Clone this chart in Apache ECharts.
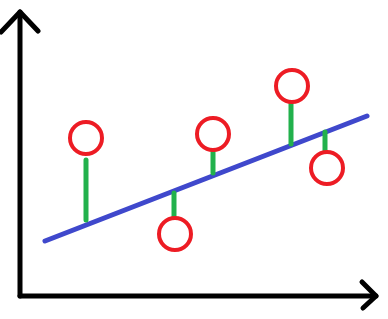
<!DOCTYPE html>
<html>
<head>
<meta charset="utf-8">
<script src="https://cdn.jsdelivr.net/npm/echarts@6/dist/echarts.min.js"></script>
<style>html,body{margin:0;padding:0;background:#fff}#c{width:388px;height:319px}</style>
</head>
<body>
<div id="c"></div>
<script>
// Observations (drawn as open circles)
var pointX = [66, 155, 193, 272, 307];
var pointY = [158, 62, 162, 210, 128];
// Fitted regression line endpoints
var fitX = [25, 347];
var fitY = [55, 180];
// Residual segments (x, top, bottom)
var resX = [66, 154, 193, 271, 305];
var resTop = [136, 103, 144, 192, 164];
var resBottom = [76, 80, 123, 152, 146];
// Axis shafts
var yShaftX = [0, 0];
var yShaftY = [0, 284];
var xShaftX = [0, 356];
var xShaftY = [0, 0];
// Arrowheads of the axes
var yArrowX = [-19, 0, 18];
var yArrowY = [264, 284, 265];
var xArrowX = [342, 356, 343];
var xArrowY = [14, 0, -12];

var chart = echarts.init(document.getElementById('c'));
var series = [];
function pairs(xs, ys){ return xs.map(function(x,i){ return [x, ys[i]]; }); }
function blackLine(xs, ys){
  return {type: 'line', data: pairs(xs, ys), symbol: 'none', clip: false, z: 5, silent: true,
    lineStyle: {color: '#000', width: 5, cap: 'round', join: 'round'}};
}
series.push({
  type: 'line', data: pairs(fitX, fitY), symbol: 'none', clip: false, z: 2,
  lineStyle: {color: '#3F48CC', width: 5, cap: 'round'}, silent: true
});
resX.forEach(function(x, i){
  series.push({
    type: 'line', data: [[x, resTop[i]], [x, resBottom[i]]], symbol: 'none', clip: false, z: 3,
    lineStyle: {color: '#22B14C', width: 5, cap: 'round'}, silent: true
  });
});
series.push({
  type: 'scatter', data: pairs(pointX, pointY), symbol: 'circle', symbolSize: 32, z: 4,
  itemStyle: {color: 'rgba(255,255,255,0)', borderColor: '#ED1C24', borderWidth: 4, opacity: 1}, silent: true
});
series.push(blackLine(yShaftX, yShaftY));
series.push(blackLine(xShaftX, xShaftY));
series.push(blackLine(yArrowX, yArrowY));
series.push(blackLine(xArrowX, xArrowY));

chart.setOption({
  animation: false,
  backgroundColor: '#fff',
  grid: {left: 0, top: 6, width: 380, height: 310, containLabel: false},
  xAxis: {type: 'value', min: -20, max: 360, show: false,
    axisLine: {show: false}, axisTick: {show: false}, axisLabel: {show: false}, splitLine: {show: false}},
  yAxis: {type: 'value', min: -20, max: 290, show: false,
    axisLine: {show: false}, axisTick: {show: false}, axisLabel: {show: false}, splitLine: {show: false}},
  series: series
});
</script>
</body>
</html>
